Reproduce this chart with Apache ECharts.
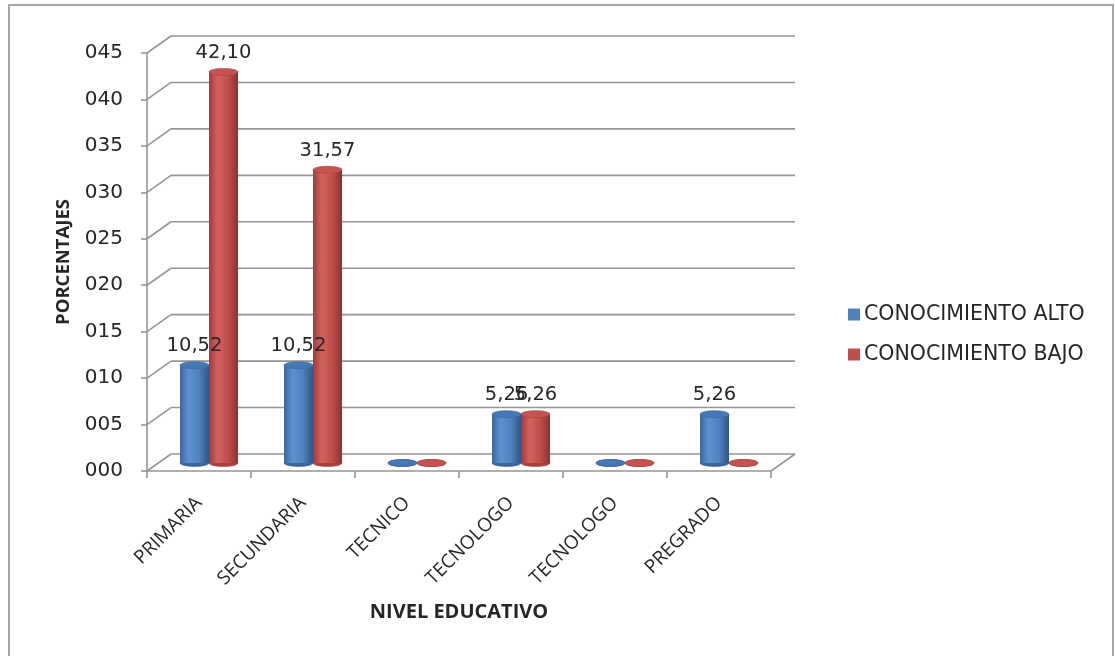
<!DOCTYPE html>
<html>
<head>
<meta charset="utf-8">
<title>Nivel educativo</title>
<script src="https://cdn.jsdelivr.net/npm/echarts@6/dist/echarts.min.js"></script>
<style>
  html, body { margin: 0; padding: 0; background: #ffffff; }
  #chart { width: 1115px; height: 656px; }
</style>
</head>
<body>
<div id="chart"></div>
<script>
// Education levels and knowledge percentages
const categories = ['PRIMARIA', 'SECUNDARIA', 'TECNICO', 'TECNOLOGO', 'TECNOLOGO', 'PREGRADO'];
const seriesNames = ['CONOCIMIENTO ALTO', 'CONOCIMIENTO BAJO'];
const conocimientoAlto = [10.52, 10.52, 0, 5.26, 0, 5.26];
const conocimientoBajo = [42.10, 31.57, 0, 5.26, 0, 0];
const yTicks = [0, 5, 10, 15, 20, 25, 30, 35, 40, 45];

// 3D depth offset of the back wall (px) and bar size
const DEPTH_X = 24, DEPTH_Y = 17;
const BAR_W = 29, CAP_RY = 3.5;

const chart = echarts.init(document.getElementById('chart'), null, { renderer: 'canvas' });

const fmtComma = v => v.toFixed(2).replace('.', ',');
const gridColor = '#959595';

function cylGradient(edgeL, light, mid, edgeR) {
  return new echarts.graphic.LinearGradient(0, 0, 1, 0, [
    { offset: 0, color: edgeL },
    { offset: 0.3, color: light },
    { offset: 0.65, color: mid },
    { offset: 1, color: edgeR }
  ]);
}
const blueBody = cylGradient('#3a679f', '#5d91d2', '#4f81bd', '#2f5687');
const redBody = cylGradient('#9e3c39', '#d5625f', '#c0504d', '#8a3331');
const capColors = [['#4678b6', '#3a669e'], ['#c5534f', '#a8413e']];

// wall, floor and depth connectors around the value axis
function renderWalls(params, api) {
  const cs = params.coordSys;
  const v = api.value(0);
  const y = api.coord([0, v])[1];
  const x0 = cs.x;
  const style = { stroke: gridColor, lineWidth: 1.6 };
  const children = [
    { type: 'line', shape: { x1: x0, y1: y, x2: x0 + DEPTH_X, y2: y - DEPTH_Y }, style },
    { type: 'line', shape: { x1: x0 + DEPTH_X, y1: y - DEPTH_Y, x2: x0 + cs.width + DEPTH_X, y2: y - DEPTH_Y }, style }
  ];
  if (v === 0) {
    children.push({ type: 'line', shape: { x1: x0 + cs.width, y1: y, x2: x0 + cs.width + DEPTH_X, y2: y - DEPTH_Y }, style });
  }
  return { type: 'group', children };
}

// elliptical ends of the cylinders
function capRenderer(top) {
  return function (params, api) {
    const idx = api.value(0);
    const val = api.value(1);
    const side = api.value(2);
    const base = api.coord([idx, 0]);
    const end = api.coord([idx, val]);
    const cx = base[0] + (side === 0 ? -BAR_W / 2 : BAR_W / 2);
    const cy = top ? end[1] : base[1];
    const col = capColors[side][top ? 0 : 1];
    return {
      type: 'ellipse',
      shape: { cx, cy, rx: BAR_W / 2, ry: CAP_RY },
      style: { fill: col, stroke: capColors[side][1], lineWidth: 0.6 }
    };
  };
}

const capData = [];
conocimientoAlto.forEach((v, i) => capData.push([i, v, 0]));
conocimientoBajo.forEach((v, i) => capData.push([i, v, 1]));

const textCol = '#262626';

const barLabel = {
  show: true, position: 'top', distance: 9,
  fontFamily: 'DejaVu Sans', fontSize: 19.5, color: textCol,
  formatter: p => (p.value ? fmtComma(p.value) : '')
};

const option = {
  animation: false,
  backgroundColor: '#ffffff',
  graphic: [{
    type: 'rect',
    shape: { x: 9, y: 5, width: 1104, height: 660 },
    style: { fill: 'none', stroke: '#a6a6a6', lineWidth: 2 },
    silent: true
  }],
  legend: {
    orient: 'vertical',
    left: 843,
    top: 299,
    itemWidth: 12,
    itemHeight: 12,
    itemGap: 19,
    icon: 'rect',
    textStyle: { fontFamily: 'DejaVu Sans', fontSize: 20.5, color: textCol, padding: [0, 0, 0, -1] },
    data: [
      { name: seriesNames[0], itemStyle: { color: '#4f81bd' } },
      { name: seriesNames[1], itemStyle: { color: '#c0504d' } }
    ]
  },
  grid: [
    { left: 147, right: 344, top: 53, bottom: 185 },
    { left: 157, right: 334, top: 45, bottom: 193 }
  ],
  xAxis: [
    {
      gridIndex: 0,
      type: 'category',
      data: categories,
      name: 'NIVEL EDUCATIVO',
      nameLocation: 'middle',
      nameGap: 131,
      nameTextStyle: { fontFamily: 'Open Sans', fontWeight: 'bold', fontSize: 20, color: textCol },
      axisLine: { lineStyle: { color: gridColor, width: 1.6 } },
      axisTick: { show: true, length: 7, lineStyle: { color: gridColor, width: 1.6 } },
      axisLabel: {
        rotate: 45, margin: 29, interval: 0,
        fontFamily: 'Open Sans', fontSize: 19, color: textCol
      }
    },
    {
      gridIndex: 1,
      type: 'category',
      data: categories,
      show: false
    }
  ],
  yAxis: [
    {
      gridIndex: 0,
      type: 'value',
      min: 0, max: 45, interval: 5,
      name: 'PORCENTAJES',
      nameLocation: 'middle',
      nameGap: 74,
      nameRotate: 90,
      nameTextStyle: { fontFamily: 'Open Sans', fontWeight: 'bold', fontSize: 18.5, color: textCol },
      axisLine: { show: true, lineStyle: { color: gridColor, width: 1.6 } },
      axisTick: { show: true, length: 6, lineStyle: { color: gridColor, width: 1.6 } },
      splitLine: { show: false },
      axisLabel: {
        margin: 24,
        fontFamily: 'DejaVu Sans', fontSize: 20, color: textCol,
        formatter: v => String(v).padStart(3, '0')
      }
    },
    {
      gridIndex: 1,
      type: 'value',
      min: 0, max: 45, interval: 5,
      show: false
    }
  ],
  series: [
    {
      name: 'walls',
      type: 'custom',
      xAxisIndex: 0, yAxisIndex: 0,
      renderItem: renderWalls,
      encode: { y: 0 },
      data: yTicks.map(v => [v]),
      silent: true,
      z: 0
    },
    {
      name: 'base',
      type: 'custom',
      xAxisIndex: 1, yAxisIndex: 1,
      renderItem: capRenderer(false),
      encode: { x: 0, y: 1 },
      data: capData,
      silent: true,
      z: 1
    },
    {
      name: seriesNames[0],
      type: 'bar',
      xAxisIndex: 1, yAxisIndex: 1,
      barWidth: BAR_W,
      barGap: '0%',
      data: conocimientoAlto,
      itemStyle: { color: blueBody },
      label: barLabel,
      z: 2
    },
    {
      name: seriesNames[1],
      type: 'bar',
      xAxisIndex: 1, yAxisIndex: 1,
      barWidth: BAR_W,
      barGap: '0%',
      data: conocimientoBajo,
      itemStyle: { color: redBody },
      label: barLabel,
      z: 2
    },
    {
      name: 'top',
      type: 'custom',
      xAxisIndex: 1, yAxisIndex: 1,
      renderItem: capRenderer(true),
      encode: { x: 0, y: 1 },
      data: capData,
      silent: true,
      z: 3
    }
  ]
};

chart.setOption(option);
</script>
</body>
</html>
